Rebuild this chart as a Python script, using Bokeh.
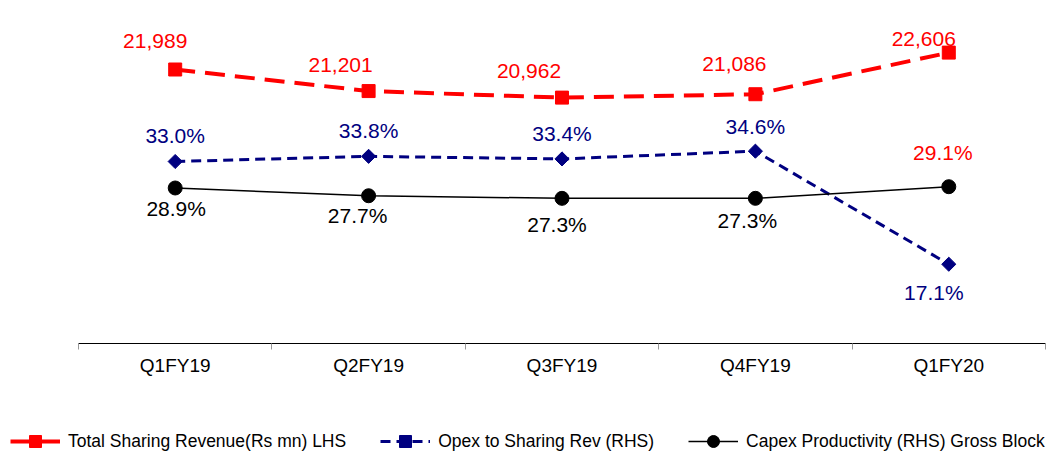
import math
from bokeh.plotting import figure
from bokeh.models import (Range1d, LinearAxis, FixedTicker, ColumnDataSource,
                          Legend, LegendItem)
from bokeh.core.properties import value
from bokeh.embed import file_html
from bokeh.resources import INLINE

# ---- data ----
categories = ["Q1FY19", "Q2FY19", "Q3FY19", "Q4FY19", "Q1FY20"]
sharing_revenue = [21989, 21201, 20962, 21086, 22606]          # Rs mn, LHS
opex_to_sharing = [33.0, 33.8, 33.4, 34.6, 17.1]                # %, RHS
capex_productivity = [28.9, 27.7, 27.3, 27.3, 29.1]             # %, RHS
series_names = ["Total Sharing Revenue(Rs mn) LHS",
                "Opex to Sharing Rev (RHS)",
                "Capex Productivity (RHS) Gross Block"]

# ---- styles ----
RED = "#FF0000"
NAVY = "#000080"
BLACK = "#000000"
FONT_NAME = "Liberation Sans"
FONT = value(FONT_NAME)

n = len(categories)
xs = [i + 0.5 for i in range(n)]
bounds = [float(i) for i in range(n + 1)]
LHS_AXIS_AT = 11979   # LHS value where the category axis crosses

p = figure(width=1050, height=452, output_backend="svg", toolbar_location=None,
           x_range=Range1d(-0.4033, 5.0259), y_range=Range1d(7997, 24510),
           x_axis_location=None, y_axis_location=None,
           min_border_left=0, min_border_right=0, min_border_top=0,
           min_border_bottom=0)
p.extra_y_ranges = {"rhs": Range1d(-12.04, 57.92)}
p.outline_line_color = None
p.xgrid.visible = False
p.ygrid.visible = False
p.background_fill_color = "white"
p.border_fill_color = "white"

xa = LinearAxis(ticker=FixedTicker(ticks=xs, minor_ticks=bounds),
                bounds=(0, n), fixed_location=LHS_AXIS_AT,
                major_label_overrides={x: c for x, c in zip(xs, categories)},
                major_tick_out=0, major_tick_in=0,
                minor_tick_out=6, minor_tick_in=0,
                minor_tick_line_color="#999999",
                axis_line_color=BLACK, axis_line_width=1,
                major_label_standoff=5,
                major_label_text_font=FONT_NAME,
                major_label_text_font_size="19px",
                major_label_text_color=BLACK)
p.add_layout(xa, "below")

# series
rl = p.line(xs, sharing_revenue, color=RED, line_width=4, line_dash="20 10")
rm = p.scatter(xs, sharing_revenue, marker="square", size=13, color=RED)
bl = p.line(xs, opex_to_sharing, y_range_name="rhs", color=NAVY,
            line_width=3, line_dash="10 6")
bm = p.scatter(xs, opex_to_sharing, y_range_name="rhs", marker="square",
               angle=math.pi / 4, size=10, color=NAVY)
kl = p.line(xs, capex_productivity, y_range_name="rhs", color=BLACK,
            line_width=1.5)
km = p.scatter(xs, capex_productivity, y_range_name="rhs", marker="circle",
               size=14, color=BLACK)

# labels
red_src = ColumnDataSource(dict(
    x=xs, y=sharing_revenue,
    t=[f"{v:,}" for v in sharing_revenue],
    xo=[-20, -28, -33, -21, -25],
    yo=[-29, -26, -27, -30, -14],
))
p.text("x", "y", text="t", source=red_src, x_offset="xo", y_offset="yo",
       text_color=RED, text_font=FONT, text_font_size="21px",
       text_align="center", text_baseline="middle")

rhs_src = ColumnDataSource(dict(
    x=xs + xs,
    y=opex_to_sharing + capex_productivity,
    t=[f"{v:.1f}%" for v in opex_to_sharing + capex_productivity],
    xo=[0, 0, 0, 0, -15] + [1, -11, -5, -8, -6],
    yo=[-26, -26, -25, -25, 28] + [21, 20, 26, 22, -34],
    c=[NAVY] * 5 + [BLACK] * 4 + [RED],
))
p.text("x", "y", text="t", source=rhs_src, y_range_name="rhs",
       x_offset="xo", y_offset="yo", text_color="c",
       text_font=FONT, text_font_size="21px",
       text_align="center", text_baseline="middle")

legend = Legend(items=[
    LegendItem(label=series_names[0], renderers=[rl, rm]),
    LegendItem(label=series_names[1], renderers=[bl, bm]),
    LegendItem(label=series_names[2], renderers=[kl, km]),
], orientation="horizontal", location=(10, -4),
    glyph_width=50, glyph_height=30, label_height=30, label_standoff=8,
    spacing=34, padding=0, margin=0, border_line_color=None,
    background_fill_alpha=0,
    label_text_font=FONT_NAME, label_text_font_size="17.5px",
    label_text_color=BLACK)
p.add_layout(legend, "center")

open("out.html", "w").write(file_html(p, INLINE))
